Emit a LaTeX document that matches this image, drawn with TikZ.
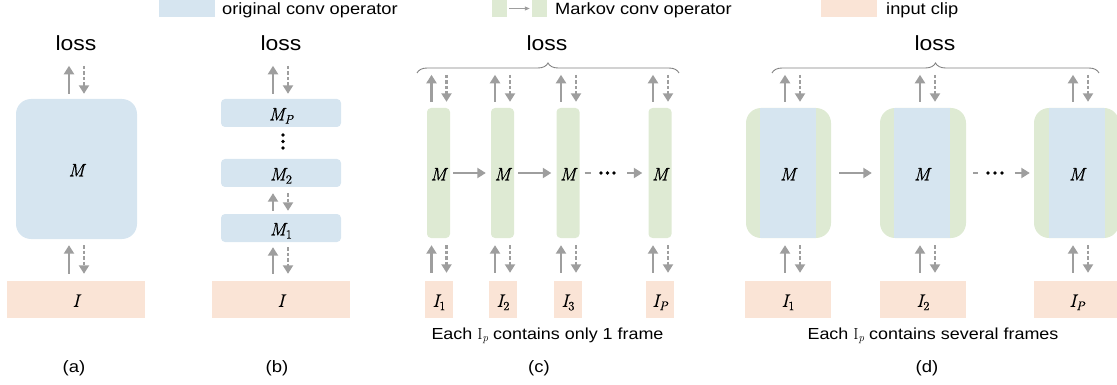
\documentclass[tikz,border=0pt]{standalone}
\usepackage{fontspec}
\setmainfont[FakeStretch=1.12]{Liberation Sans}
\newfontfamily\mfnt[FakeBold=0.5]{Latin Modern Roman}
\newfontfamily\lmfnt{Latin Modern Roman}
\newcommand\mvar[1]{{\mfnt\itshape #1}}
\newcommand\msubs[1]{\raisebox{-3.4pt}{\fontsize{12.6}{14}\selectfont #1}}
\newcommand\capI{{\lmfnt I}\raisebox{-2.6pt}{\fontsize{11.2}{13}\selectfont\lmfnt\itshape p}}
\usetikzlibrary{arrows.meta,calc,decorations.pathreplacing}
\definecolor{cblue}{HTML}{D6E5F0}
\definecolor{cgreen}{HTML}{DEEAD3}
\definecolor{cpeach}{HTML}{FAE4D6}
\definecolor{carrow}{HTML}{9E9E9E}
\definecolor{cbrace}{HTML}{808080}
\tikzset{
 fillbox/.style={draw=none, inner sep=0pt, text height=14.6pt, text depth=0pt, font=\fontsize{18}{20}\selectfont},
 bluebox/.style={fillbox, fill=cblue},
 greenbox/.style={fillbox, fill=cgreen},
 peachbox/.style={fillbox, fill=cpeach},
 losslbl/.style={inner sep=0pt, anchor=base, font=\fontsize{20.5}{24}\selectfont},
 caplbl/.style={inner sep=0pt, anchor=base, font=\fontsize{16.5}{20}\selectfont},
 notelbl/.style={inner sep=0pt, anchor=base, font=\fontsize{16}{19}\selectfont},
 leglbl/.style={inner sep=0pt, anchor=base west, font=\fontsize{16.3}{19}\selectfont},
 arr/.style={draw=carrow, line width=2.2pt, -{Triangle[width=10pt,length=8.5pt]}},
 uparr/.style={arr},
 dnarr/.style={arr, dash pattern=on 3.5pt off 2pt},
 hdash/.style={draw=carrow, line width=2.2pt},
 bracestyle/.style={draw=cbrace, line width=0.9pt, decorate, decoration={brace, amplitude=10pt}},
 bulletdot/.style={circle, fill=black, inner sep=0pt, minimum size=3.6pt},
}
\newcommand\toppair[4]{% #1 node, #2 gap, #3 length, #4 x offset
 \draw[uparr] ($(#1.north)+(#4-7.5,-#2)$) -- ++(0,-#3);
 \draw[dnarr] ($(#1.north)+(#4+7.5,-#2-#3)$) -- ++(0,#3);}
\newcommand\botpair[5]{% #1 lower node, #2 upper node, #3 gap above lower, #4 gap below upper, #5 x offset
 \draw[uparr] ($(#2.south |- #1.north)+(#5-7.5,-#3)$) -- ($(#2.south)+(#5-7.5,#4)$);
 \draw[dnarr] ($(#2.south)+(#5+7.5,#4)$) -- ($(#2.south |- #1.north)+(#5+7.5,-#3)$);}
\begin{document}
\begin{tikzpicture}[x=1pt,y=-1pt]
\useasboundingbox (0,0) rectangle (1117,385);
% legend
\node[bluebox, minimum width=56pt, minimum height=17pt] (legB) at (187,8.5) {};
\node[leglbl] (legBt) at (222,15) {original conv operator};
\node[greenbox, minimum width=15pt, minimum height=17pt] (legG1) at (499.5,8.5) {};
\node[greenbox, minimum width=15pt, minimum height=17pt] (legG2) at (539.5,8.5) {};
\draw[draw=carrow, line width=0.8pt, -{Triangle[width=4pt,length=5pt]}, shorten <=2pt, shorten >=2pt] (legG1) -- (legG2);
\node[leglbl] (legGt) at (555,15) {Markov conv operator};
\node[peachbox, minimum width=56pt, minimum height=17pt] (legP) at (849,8.5) {};
\node[leglbl] (legPt) at (886,15) {input clip};
% (a)
\node[losslbl] (lossA) at (76,51) {loss};
\node[bluebox, rounded corners=15pt, minimum width=121pt, minimum height=140pt] (MA) at (76.5,169) {\mvar{M}};
\node[peachbox, minimum width=138pt, minimum height=37pt] (IA) at (76,299.5) {\mvar{I}};
\toppair{MA}{5}{28}{0}
\botpair{IA}{MA}{7}{6}{0}
\node[caplbl] (capA) at (74,372) {(a)};
% (b)
\node[losslbl] (lossB) at (281,51) {loss};
\node[bluebox, rounded corners=4pt, minimum width=120pt, minimum height=28pt] (MP) at (281,113) {\mvar{M}\msubs{\mvar{P}}};
\node[bulletdot] (vd1) at (283,135) {};
\node[bulletdot] (vd2) at (283,141.5) {};
\node[bulletdot] (vd3) at (283,148) {};
\node[bluebox, rounded corners=4pt, minimum width=120pt, minimum height=28pt] (M2) at (281,173) {\mvar{M}\msubs{\mfnt 2}};
\node[bluebox, rounded corners=4pt, minimum width=120pt, minimum height=28pt] (M1) at (281,228) {\mvar{M}\msubs{\mfnt 1}};
\node[peachbox, minimum width=138pt, minimum height=37pt] (IB) at (281,299.5) {\mvar{I}};
\toppair{MP}{5}{28}{-0.5}
\botpair{M1}{M2}{3}{6}{-0.5}
\botpair{IB}{M1}{7}{5}{-0.5}
\node[caplbl] (capB) at (277,372) {(b)};
% (c)
\node[losslbl] (lossC) at (547,51) {loss};
\coordinate (brCl) at (417,73);
\coordinate (brCr) at (679,73);
\draw[bracestyle] (brCl) -- (brCr);
\node[greenbox, rounded corners=4pt, minimum width=23pt, minimum height=130pt] (C1) at (438.5,173) {\mvar{M}};
\node[greenbox, rounded corners=4pt, minimum width=23pt, minimum height=130pt] (C2) at (502.5,173) {\mvar{M}};
\node[greenbox, rounded corners=4pt, minimum width=23pt, minimum height=130pt] (C3) at (568,173) {\mvar{M}};
\node[greenbox, rounded corners=4pt, minimum width=23pt, minimum height=130pt] (C4) at (660,173) {\mvar{M}};
\draw[arr, shorten <=3pt, shorten >=5pt] (C1.east) -- (C2.west);
\draw[arr, shorten <=4pt, shorten >=5pt] (C2.east) -- (C3.west);
\draw[hdash] ([xshift=5pt]C3.east) -- ++(6,0);
\node[bulletdot] (cd1) at (601,173) {};
\node[bulletdot] (cd2) at (607.5,173) {};
\node[bulletdot] (cd3) at (614,173) {};
\draw[arr] ([xshift=-21pt]C4.west) -- ([xshift=-6pt]C4.west);
\node[peachbox, minimum width=28pt, minimum height=37pt] (IC1) at (439,299.5) {\mvar{I}\msubs{\mfnt 1}};
\node[peachbox, minimum width=28pt, minimum height=37pt] (IC2) at (503,299.5) {\mvar{I}\msubs{\mfnt 2}};
\node[peachbox, minimum width=28pt, minimum height=37pt] (IC3) at (568,299.5) {\mvar{I}\msubs{\mfnt 3}};
\node[peachbox, minimum width=28pt, minimum height=37pt] (IC4) at (660,299.5) {\mvar{I}\msubs{\mvar{P}}};
\toppair{C1}{6}{27}{0.5}
\toppair{C2}{6}{27}{0}
\toppair{C3}{6}{27}{0.5}
\toppair{C4}{6}{27}{0.5}
\botpair{IC1}{C1}{8}{7}{0.5}
\botpair{IC2}{C2}{8}{7}{0}
\botpair{IC3}{C3}{8}{7}{0.5}
\botpair{IC4}{C4}{8}{7}{0.5}
\node[notelbl] (noteC) at (547.5,339) {Each \capI{} contains only 1 frame};
\node[caplbl] (capC) at (539,372) {(c)};
% (d)
\node[losslbl] (lossD) at (935,51) {loss};
\coordinate (brDl) at (772,73);
\coordinate (brDr) at (1099,73);
\draw[bracestyle] (brDl) -- (brDr);
\node[greenbox, rounded corners=15pt, minimum width=85pt, minimum height=130pt] (D1) at (788.5,173) {};
\fill[cblue] ([xshift=14pt]D1.north west) rectangle ([xshift=-15pt]D1.south east);
\node[fillbox] (D1m) at (788,173) {\mvar{M}};
\node[greenbox, rounded corners=15pt, minimum width=86pt, minimum height=130pt] (D2) at (923,173) {};
\fill[cblue] ([xshift=14pt]D2.north west) rectangle ([xshift=-16pt]D2.south east);
\node[fillbox] (D2m) at (922,173) {\mvar{M}};
\node[greenbox, rounded corners=15pt, minimum width=85pt, minimum height=130pt] (D3) at (1076.5,173) {};
\fill[cblue] ([xshift=15pt]D3.north west) rectangle ([xshift=-14pt]D3.south east);
\node[fillbox] (D3m) at (1077,173) {\mvar{M}};
\draw[arr, shorten <=8pt, shorten >=8pt] (D1.east) -- (D2.west);
\draw[hdash] ([xshift=7pt]D2.east) -- ++(5,0);
\node[bulletdot] (dd1) at (988,173) {};
\node[bulletdot] (dd2) at (995,173) {};
\node[bulletdot] (dd3) at (1002,173) {};
\draw[arr] ([xshift=-19pt]D3.west) -- ([xshift=-4pt]D3.west);
\node[peachbox, minimum width=86pt, minimum height=37pt] (ID1) at (788,299.5) {\mvar{I}\msubs{\mfnt 1}};
\node[peachbox, minimum width=86pt, minimum height=37pt] (ID2) at (923,299.5) {\mvar{I}\msubs{\mfnt 2}};
\node[peachbox, minimum width=86pt, minimum height=37pt] (ID3) at (1077,299.5) {\mvar{I}\msubs{\mvar{P}}};
\toppair{D1}{6}{27}{4}
\toppair{D2}{6}{27}{4.5}
\toppair{D3}{6}{27}{4}
\botpair{ID1}{D1}{8}{7}{4}
\botpair{ID2}{D2}{8}{7}{4.5}
\botpair{ID3}{D3}{8}{7}{4}
\node[notelbl] (noteD) at (933,339) {Each \capI{} contains several frames};
\node[caplbl] (capD) at (927,372) {(d)};
\end{tikzpicture}
\end{document}
